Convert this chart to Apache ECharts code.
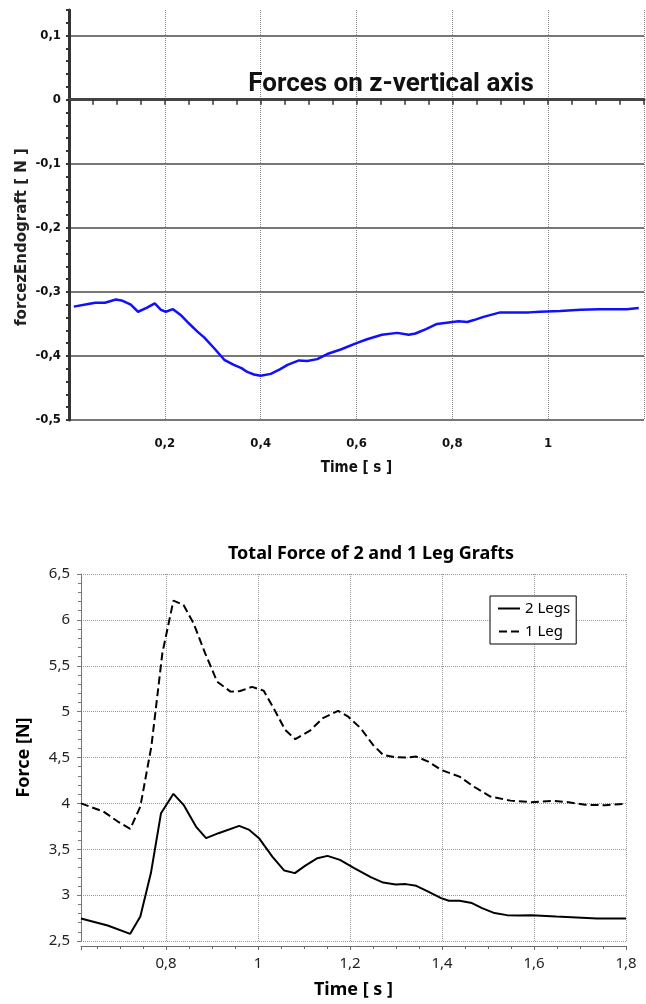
<!DOCTYPE html>
<html>
<head>
<meta charset="utf-8">
<script src="https://cdn.jsdelivr.net/npm/echarts@6/dist/echarts.min.js"></script>
<style>
html,body{margin:0;padding:0;background:#fff;}
#c{width:646px;height:1004px;}
</style>
</head>
<body>
<div id="c"></div>
<script>
// ---- Top chart: Forces on z-vertical axis ----
var topTime = [0.01,0.04,0.055,0.075,0.098,0.112,0.129,0.144,0.162,0.179,0.192,0.202,0.217,0.233,0.25,0.268,0.282,0.303,0.324,0.344,0.36,0.372,0.386,0.4,0.421,0.44,0.456,0.48,0.497,0.518,0.539,0.567,0.6,0.622,0.653,0.685,0.709,0.723,0.745,0.768,0.813,0.831,0.845,0.865,0.9,0.96,0.983,1.025,1.067,1.108,1.164,1.189];
var topForce = [-0.323,-0.319,-0.317,-0.317,-0.312,-0.314,-0.320,-0.331,-0.325,-0.318,-0.328,-0.331,-0.327,-0.336,-0.349,-0.362,-0.371,-0.388,-0.406,-0.414,-0.419,-0.425,-0.429,-0.431,-0.428,-0.421,-0.414,-0.407,-0.408,-0.405,-0.397,-0.390,-0.380,-0.374,-0.367,-0.364,-0.367,-0.365,-0.358,-0.350,-0.346,-0.347,-0.344,-0.339,-0.332,-0.332,-0.331,-0.330,-0.328,-0.327,-0.327,-0.325];

// ---- Bottom chart: Total Force of 2 and 1 Leg Grafts ----
var legs2Time = [0.615,0.673,0.722,0.744,0.767,0.789,0.816,0.838,0.865,0.887,0.914,0.959,0.981,1.002,1.031,1.057,1.08,1.102,1.129,1.151,1.178,1.209,1.245,1.272,1.299,1.321,1.344,1.37,1.398,1.415,1.438,1.465,1.487,1.514,1.541,1.567,1.594,1.648,1.693,1.737,1.8];
var legs2Force = [2.745,2.669,2.578,2.767,3.240,3.893,4.104,3.984,3.747,3.621,3.675,3.755,3.711,3.621,3.42,3.268,3.240,3.319,3.403,3.428,3.384,3.294,3.196,3.137,3.116,3.12,3.101,3.039,2.967,2.938,2.938,2.913,2.858,2.804,2.782,2.778,2.782,2.767,2.756,2.745,2.745];
var leg1Time = [0.615,0.664,0.695,0.722,0.744,0.768,0.792,0.816,0.838,0.86,0.885,0.911,0.94,0.961,0.987,1.012,1.034,1.059,1.081,1.113,1.141,1.174,1.196,1.223,1.25,1.272,1.299,1.326,1.344,1.37,1.398,1.438,1.469,1.505,1.549,1.594,1.639,1.675,1.711,1.755,1.8];
var leg1Force = [4.00,3.911,3.802,3.722,3.965,4.62,5.64,6.21,6.162,5.96,5.636,5.327,5.218,5.225,5.27,5.229,5.037,4.80,4.70,4.793,4.93,5.008,4.945,4.82,4.637,4.528,4.503,4.499,4.51,4.455,4.365,4.292,4.183,4.074,4.030,4.013,4.027,4.013,3.984,3.980,3.995];

var seriesNames = ['2 Legs', '1 Leg'];
var titles = ['Forces on z-vertical axis', 'Total Force of 2 and 1 Leg Grafts'];
var topYName = 'forcezEndograft [ N ]';

function pairs(xs, ys){ return xs.map(function(x,i){ return [x, ys[i]]; }); }
function comma(v){ return String(+Number(v).toFixed(2)).replace('.', ','); }

var narrow = "'Liberation Sans Narrow','Arial Narrow','DejaVu Sans Condensed',sans-serif";
var noto = "'Noto Sans',sans-serif";

var chart = echarts.init(document.getElementById('c'), null, {renderer:'canvas'});
chart.setOption({
  backgroundColor: '#fff',
  animation: false,
  title: [
    {text: titles[0], left: 386, top: 66, textAlign: 'center',
     textStyle: {fontFamily: 'Roboto', fontWeight: 'bold', fontSize: 26, color: '#111'}},
    {text: titles[1], left: 366, top: 540, textAlign: 'center',
     textStyle: {fontFamily: noto, fontWeight: 'bold', fontSize: 18, color: '#000'}}
  ],
  graphic: [
    {type: 'text', x: 22, y: 237, rotation: Math.PI / 2,
     style: {text: topYName, fontFamily: "'DejaVu Sans',sans-serif", fontWeight: 'bold', fontSize: 15,
       fill: '#222', align: 'center', verticalAlign: 'middle'}}
  ],
  legend: {
    data: [
      {name: seriesNames[0], icon: 'path://M0,0H22V2H0Z'},
      {name: seriesNames[1], icon: 'path://M0,0H8V2H0Z M12,0H20V2H12Z'}
    ],
    orient: 'vertical', left: 490, top: 596,
    padding: [5, 6, 5, 8], itemGap: 8, itemWidth: 22, itemHeight: 2,
    borderColor: '#000', borderWidth: 1, backgroundColor: '#fff', borderRadius: 0,
    textStyle: {fontFamily: noto, fontSize: 15, color: '#000'}
  },
  grid: [
    {left: 69, top: 10, width: 575, height: 410},
    {left: 81, top: 574, width: 545, height: 367}
  ],
  xAxis: [
    {type: 'value', gridIndex: 0, min: 0, max: 1.2, interval: 0.2, offset: 7,
     name: 'Time [ s ]', nameLocation: 'middle', nameGap: 34,
     nameTextStyle: {fontFamily: narrow, fontWeight: 'bold', fontSize: 15, color: '#111'},
     axisLine: {show: true, lineStyle: {color: '#444', width: 3}},
     axisTick: {show: true, length: 5, lineStyle: {color: '#333', width: 1.5}},
     minorTick: {show: true, splitNumber: 4, length: 5, lineStyle: {color: '#333', width: 1.5}},
     axisLabel: {showMinLabel: false, showMaxLabel: false, margin: 10, formatter: comma,
       fontFamily: narrow, fontWeight: 'bold', fontSize: 13, color: '#111'},
     splitLine: {show: true, lineStyle: {color: '#888', width: 1, type: 'dotted'}}},
    {type: 'value', gridIndex: 1, min: 0.615, max: 1.8, splitNumber: 6, offset: 5,
     name: 'Time [ s ]', nameLocation: 'middle', nameGap: 35,
     nameTextStyle: {fontFamily: noto, fontWeight: 'bold', fontSize: 18, color: '#000'},
     axisLine: {show: true, lineStyle: {color: '#666', width: 1}},
     axisTick: {show: true, length: 4, lineStyle: {color: '#666'}},
     minorTick: {show: true, splitNumber: 4, length: 3, lineStyle: {color: '#666'}},
     axisLabel: {showMinLabel: false, margin: 10, formatter: comma,
       fontFamily: noto, fontSize: 15, color: '#222'},
     splitLine: {show: true, showMinLine: false, lineStyle: {color: '#999', width: 1, type: 'dotted'}}}
  ],
  yAxis: [
    {type: 'value', gridIndex: 0, min: -0.5, max: 0.14, interval: 0.1,
     axisLine: {show: true, lineStyle: {color: '#333', width: 3}},
     axisTick: {show: true, length: 3, lineStyle: {color: '#333', width: 2}},
     minorTick: {show: true, splitNumber: 5, length: 3, lineStyle: {color: '#333', width: 2}},
     axisLabel: {showMaxLabel: false, margin: 8, formatter: comma,
       fontFamily: narrow, fontWeight: 'bold', fontSize: 13, color: '#111'},
     splitLine: {show: true, showMaxLine: false, lineStyle: {color: '#777', width: 2}}},
    {type: 'value', gridIndex: 1, min: 2.5, max: 6.5, interval: 0.5,
     name: 'Force [N]', nameLocation: 'middle', nameGap: 48, nameRotate: 90,
     nameTextStyle: {fontFamily: noto, fontWeight: 'bold', fontSize: 18, color: '#000'},
     axisLine: {show: true, lineStyle: {color: '#777', width: 1}},
     axisTick: {show: true, length: 4, lineStyle: {color: '#777'}},
     minorTick: {show: true, splitNumber: 5, length: 3, lineStyle: {color: '#777'}},
     axisLabel: {margin: 11, formatter: comma, fontFamily: noto, fontSize: 15, color: '#222'},
     splitLine: {show: true, lineStyle: {color: '#999', width: 1, type: 'dotted'}}}
  ],
  series: [
    {type: 'line', name: 'forcez', xAxisIndex: 0, yAxisIndex: 0, data: pairs(topTime, topForce),
     showSymbol: false, symbol: 'none', smooth: false,
     lineStyle: {color: '#1010ff', width: 2.5}},
    {type: 'line', name: seriesNames[0], xAxisIndex: 1, yAxisIndex: 1, data: pairs(legs2Time, legs2Force),
     showSymbol: false, symbol: 'none', itemStyle: {color: '#000'},
     lineStyle: {color: '#000', width: 2, type: 'solid'}},
    {type: 'line', name: seriesNames[1], xAxisIndex: 1, yAxisIndex: 1, data: pairs(leg1Time, leg1Force),
     showSymbol: false, symbol: 'none', itemStyle: {color: '#000'},
     lineStyle: {color: '#000', width: 2, type: [8, 4]}}
  ]
});
</script>
</body>
</html>
